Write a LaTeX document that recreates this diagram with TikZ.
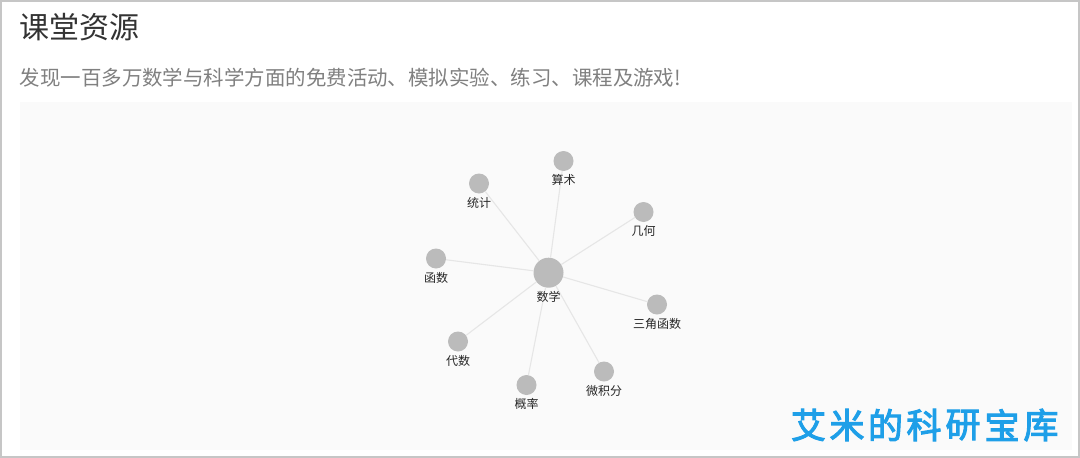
\documentclass[tikz,border=0pt]{standalone}
\usepackage{fontspec}
\setmainfont{Liberation Sans}
\newfontfamily\cjk{Noto Sans CJK SC}
\newfontfamily\cjkb{Noto Sans CJK SC}[FakeBold=3]
\definecolor{frameC}{HTML}{C6C6C6}
\definecolor{panelC}{HTML}{FAFAFA}
\definecolor{titleC}{HTML}{333333}
\definecolor{subC}{HTML}{808080}
\definecolor{dotC}{HTML}{BBBBBB}
\definecolor{edgeC}{HTML}{E6E6E6}
\definecolor{markC}{HTML}{1E9FE8}
\tikzset{
  x=1pt,y=-1pt,
  hub/.style={circle,fill=dotC,minimum size=30pt,inner sep=0pt},
  leaf/.style={circle,fill=dotC,minimum size=20pt,inner sep=0pt},
  lab/.style={font=\cjk\fontsize{12}{12}\selectfont,text=black!85,inner sep=0pt,anchor=center},
  spoke/.style={draw=edgeC,line width=1.1pt},
  wm/.style={font=\cjkb\fontsize{35}{35}\selectfont,text=markC,inner sep=0pt,anchor=center}
}
\begin{document}
\begin{tikzpicture}
\useasboundingbox (0,0) rectangle (1080,458);
\fill[white] (0,0) rectangle (1080,458);
\draw[frameC,line width=2pt] (1,1) rectangle (1079,457);
\fill[panelC] (20,102) rectangle (1072,450);
\node[inner sep=0pt,anchor=west,text=titleC,font=\cjk\fontsize{30}{30}\selectfont] (title) at (19.5,27.5) {课堂资源};
\node[inner sep=0pt,anchor=west,text=subC,font=\cjk\fontsize{20.46}{20.46}\selectfont] (sub) at (19.5,78) {发现一百多万数学与科学方面的免费活动、模拟实验、练习、课程及游戏!};
\node[hub] (m) at (548.5,272.7) {};
\node[leaf] (a) at (563.5,161) {};
\node[leaf] (b) at (479,183.5) {};
\node[leaf] (c) at (643.5,212) {};
\node[leaf] (d) at (436,258.5) {};
\node[leaf] (e) at (657,304.5) {};
\node[leaf] (f) at (458,341.5) {};
\node[leaf] (g) at (526.5,385) {};
\node[leaf] (h) at (604,371.5) {};
\foreach \n in {a,b,c,d,e,f,g,h} \draw[spoke] (m) -- (\n);
\node[lab] (lm) at (548.5,296.5) {数学};
\node[lab] (la) at (563.5,180) {算术};
\node[lab] (lb) at (479,202.5) {统计};
\node[lab] (lc) at (643.5,231) {几何};
\node[lab] (ld) at (436,277.5) {函数};
\node[lab] (le) at (657,323.5) {三角函数};
\node[lab] (lf) at (458,360.5) {代数};
\node[lab] (lg) at (526.5,404) {概率};
\node[lab] (lh) at (604,390.5) {微积分};
\foreach \t/\x in {艾/808.5,米/847,的/885.5,科/924,研/963,宝/1002,库/1041}
  \node[wm] (w\x) at (\x,425) {\t};
\end{tikzpicture}
\end{document}
